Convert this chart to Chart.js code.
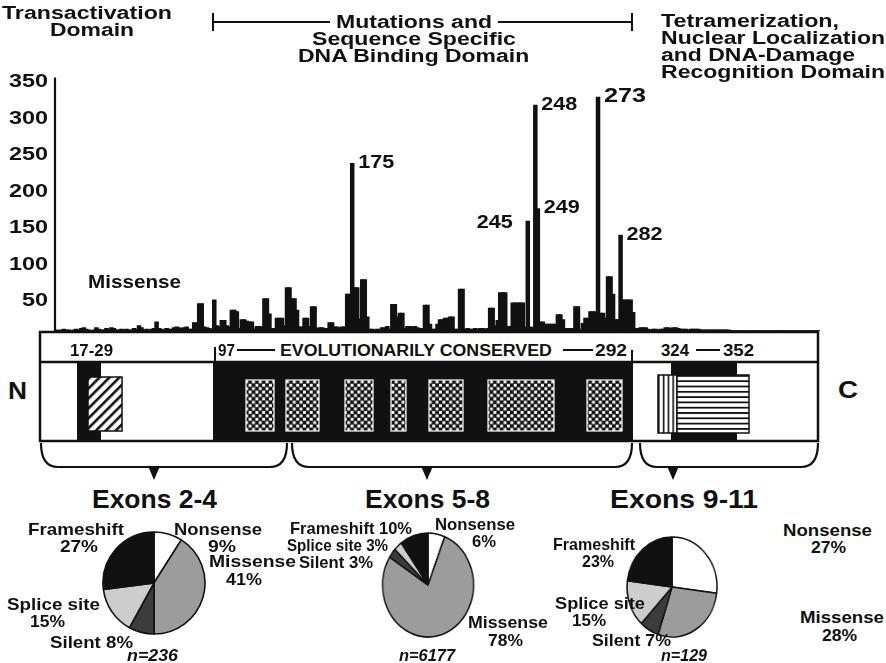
<!DOCTYPE html>
<html>
<head>
<meta charset="utf-8">
<script src="https://cdn.jsdelivr.net/npm/chart.js@4.4.1/dist/chart.umd.min.js"></script>
<style>
  html, body { margin: 0; padding: 0; background: #fff; }
  #page { position: relative; width: 886px; height: 663px; overflow: hidden; background: #fff; color: #111;
          font-family: "Liberation Sans", Arial, Helvetica, sans-serif; }
  .t { position: absolute; white-space: nowrap; transform-origin: 0 50%; }
  .box { position: absolute; }
  canvas { display: block; }
  svg { position: absolute; left: 0; top: 0; }
</style>
</head>
<body>
<div id="page">
  <svg width="886" height="663" viewBox="0 0 886 663">
    <defs>
      <pattern id="chk" x="0" y="380" width="6.8" height="6.8" patternUnits="userSpaceOnUse">
        <rect width="6.8" height="6.8" fill="#111"/>
        <rect x="0.4" y="0.4" width="2.9" height="2.9" fill="#fff"/>
        <rect x="3.8" y="3.8" width="2.9" height="2.9" fill="#fff"/>
      </pattern>
      <pattern id="hatch" width="7" height="7" patternUnits="userSpaceOnUse" patternTransform="rotate(45)">
        <rect width="7" height="7" fill="#fff"/>
        <rect width="2.6" height="7" fill="#111"/>
      </pattern>
      <pattern id="vstr" x="658" y="0" width="4.8" height="8" patternUnits="userSpaceOnUse">
        <rect width="4.8" height="8" fill="#fff"/>
        <rect width="1.6" height="8" fill="#111"/>
      </pattern>
      <pattern id="hstr" x="0" y="375" width="8" height="5.3" patternUnits="userSpaceOnUse">
        <rect width="8" height="5.3" fill="#fff"/>
        <rect width="8" height="1.8" fill="#111"/>
      </pattern>
    </defs>

    <!-- domain bracket over the DNA binding region -->
    <g stroke="#111" stroke-width="2" fill="none">
      <path d="M213,22 H330 M498,22 H632 M213,13 V31 M632,13 V31"/>
    </g>

    <!-- p53 protein schematic -->
    <rect x="40" y="332" width="778" height="109" fill="#fff" stroke="#111" stroke-width="2.5"/>
    <rect x="77" y="362" width="24" height="79" fill="#111"/>
    <rect x="213" y="362" width="420" height="79" fill="#111"/>
    <rect x="671" y="362" width="66" height="79" fill="#111"/>
    <line x1="40" y1="362" x2="818" y2="362" stroke="#111" stroke-width="2.5"/>
    <rect x="88" y="377" width="34" height="54" fill="url(#hatch)" stroke="#111" stroke-width="1.5"/>
    <g fill="url(#chk)" stroke="#fff" stroke-width="1.2">
      <rect x="246" y="380" width="28" height="51"/>
      <rect x="286" y="380" width="33" height="51"/>
      <rect x="345" y="380" width="28" height="51"/>
      <rect x="391" y="380" width="15" height="51"/>
      <rect x="429" y="380" width="34" height="51"/>
      <rect x="488" y="380" width="66" height="51"/>
      <rect x="587" y="380" width="35" height="51"/>
    </g>
    <rect x="658" y="375" width="19" height="58" fill="url(#vstr)" stroke="#111" stroke-width="1.5"/>
    <rect x="677" y="375" width="72" height="58" fill="url(#hstr)" stroke="#111" stroke-width="1.5"/>
    <g stroke="#111" stroke-width="2" fill="none">
      <path d="M215,347 V362 M632,350 V362"/>
      <path d="M237,350 H275 M563,350 H593 M696,350 H720"/>
    </g>

    <!-- exon braces -->
    <g stroke="#111" stroke-width="2.2" fill="none">
      <path d="M41,443 Q41,467 58,467 H270 Q287,467 287,443"/>
      <path d="M292,443 Q292,467 309,467 H615 Q632,467 632,443"/>
      <path d="M640,443 Q640,467 657,467 H801 Q818,467 818,443"/>
    </g>
    <g fill="#111">
      <polygon points="148,466 160,466 154,480"/>
      <polygon points="421,466 433,466 427,480"/>
      <polygon points="667,466 679,466 673,480"/>
    </g>
  </svg>

  <div class="box" style="left:0;top:0;width:886px;height:336px">
    <canvas id="bars" width="886" height="336"></canvas>
  </div>
  <div class="box" style="left:101px;top:530px;width:106px;height:106px">
    <canvas id="pie24" width="106" height="106"></canvas>
  </div>
  <div class="box" style="left:372px;top:529px;width:112px;height:112px;transform:scaleX(0.875);transform-origin:50% 50%">
    <canvas id="pie58" width="112" height="112"></canvas>
  </div>
  <div class="box" style="left:618px;top:533px;width:108px;height:108px;transform:scaleX(0.9);transform-origin:50% 50%">
    <canvas id="pie911" width="108" height="108"></canvas>
  </div>
</div>

<script>
// Missense mutations per codon, starting at codon 57
const firstCodon = 57;
const missenseCounts = [
  // 57-89
  2,1,2,3,2,2,1,2,3,2,4,5,3,2,1,2,5,3,2,2,4,3,5,4,2,2,3,2,3,2,2,4,3,
  // 90-103
  8,5,2,3,2,3,4,13,4,3,2,4,3,3,
  // 104-119
  5,6,5,4,5,6,3,3,12,12,38,38,6,5,4,3,
  // 120-139
  43,8,6,15,15,8,6,29,29,27,4,16,16,14,13,13,3,7,7,6,
  // 140-159
  45,45,24,4,4,18,18,18,8,60,60,45,45,29,6,6,18,18,7,34,
  // 160-179
  34,4,5,5,4,4,12,12,6,6,5,6,6,51,51,230,60,60,17,71,
  // 180-199
  71,20,3,3,2,3,3,5,5,7,3,37,37,20,25,25,4,7,7,6,
  // 200-219
  7,5,4,4,36,36,10,3,3,10,16,16,18,18,20,20,3,3,58,58,
  // 220-239
  3,4,3,3,4,3,4,4,3,4,32,32,8,15,53,53,53,7,7,39,
  // 240-259
  39,39,39,39,6,151,6,5,310,168,13,13,10,10,10,10,10,23,23,16,
  // 260-279
  4,4,4,4,34,34,3,11,18,18,27,27,27,321,25,25,18,75,75,51,
  // 280-299
  16,16,132,43,43,43,43,26,4,4,5,5,5,3,2,3,3,2,3,3,
  // 300-319
  5,5,4,5,5,4,3,3,3,2,3,3,3,3,2,2,2,2,2,2,
  // 320-339
  2,2,2,2,2,2,1,1,1,1,1,1,1,1,1,1,1,1,1,1,
  // 340-361
  1,1,1,1,1,1,1,1,1,1,1,1,1,1,1,1,1,1,1,1,1,1
];
const yTickValues = [50, 100, 150, 200, 250, 300, 350];
const hotspotCodons = [175, 245, 248, 249, 273, 282];

// Mutation types per exon group (percent of all mutations in the group)
const mutationTypes = ['Nonsense', 'Missense', 'Silent', 'Splice site', 'Frameshift'];
const exonGroups = ['Exons 2-4', 'Exons 5-8', 'Exons 9-11'];
const exons24Pct = [9, 41, 8, 15, 27];
const exons58Pct = [6, 78, 3, 3, 10];
const exons911Pct = [27, 28, 7, 15, 23];
const exonTotals = [236, 6177, 129];

const FONT = '"Liberation Sans", Arial, Helvetica, sans-serif';
const INK = '#111';
const typeColors = ['#ffffff', '#9c9c9c', '#3c3c3c', '#cdcdcd', '#111111'];

const page = document.getElementById('page');
const measureCtx = document.createElement('canvas').getContext('2d');

// Bold label stretched to span x1..x2, vertically centred on yc
function fit(text, x1, x2, yc, size, italic) {
  const font = (italic ? 'italic ' : '') + 'bold ' + size + 'px ' + FONT;
  measureCtx.font = font;
  const w = measureCtx.measureText(text).width;
  const el = document.createElement('div');
  el.className = 't';
  el.style.font = font;
  el.style.lineHeight = size + 'px';
  el.style.left = x1 + 'px';
  el.style.top = (yc - size * 0.49) + 'px';
  el.style.transform = 'scaleX(' + ((x2 - x1) / w).toFixed(3) + ')';
  el.textContent = text;
  page.appendChild(el);
}

// Canvas text with horizontal stretch
function wideText(ctx, text, x, y, size, sx, align) {
  ctx.save();
  ctx.font = 'bold ' + size + 'px ' + FONT;
  ctx.textBaseline = 'middle';
  ctx.fillStyle = INK;
  const w = ctx.measureText(text).width * sx;
  const left = align === 'right' ? x - w : align === 'center' ? x - w / 2 : x;
  ctx.translate(left, y);
  ctx.scale(sx, 1);
  ctx.fillText(text, 0, 0);
  ctx.restore();
}

// ---- histogram of missense mutations ----
const barPoints = missenseCounts.map((v, i) => ({ x: firstCodon + i, y: v }));

const axisAndLabels = {
  id: 'axisAndLabels',
  afterDatasetsDraw(chart) {
    const { ctx, scales: { x, y }, chartArea } = chart;
    // vertical axis line
    ctx.save();
    ctx.strokeStyle = INK;
    ctx.lineWidth = 2.2;
    ctx.beginPath();
    ctx.moveTo(chartArea.left, chartArea.top + 2);
    ctx.lineTo(chartArea.left, chartArea.bottom);
    ctx.stroke();
    ctx.restore();
    // tick labels, hanging just below each tick value
    yTickValues.forEach(v => {
      wideText(ctx, String(v), chartArea.left - 7, y.getPixelForValue(v) + 7, 18, 1.3, 'right');
    });
    // hotspot codon labels beside the bar tops
    hotspotCodons.forEach(c => {
      const v = missenseCounts[c - firstCodon];
      const px = x.getPixelForValue(c);
      const py = y.getPixelForValue(v);
      if (c === 245) {
        wideText(ctx, String(c), px - 15, py + 2, 18, 1.2, 'right');
      } else {
        const size = c === 273 ? 21 : 18;
        wideText(ctx, String(c), px + 6, py, size, 1.2, 'left');
      }
    });
  }
};

new Chart(document.getElementById('bars'), {
  type: 'bar',
  data: {
    datasets: [{
      data: barPoints,
      backgroundColor: INK,
      borderWidth: 0,
      barPercentage: 1.8,
      categoryPercentage: 1
    }]
  },
  options: {
    responsive: false,
    animation: false,
    events: [],
    layout: { padding: { left: 55, right: 66, top: 75.5, bottom: 5 } },
    scales: {
      x: { type: 'linear', min: 56.5, max: 361.5, offset: false, grid: { offset: false }, display: false },
      y: { min: 0, max: 350, display: false }
    },
    plugins: { legend: { display: false }, tooltip: { enabled: false } }
  },
  plugins: [axisAndLabels]
});

// ---- pie charts by exon group ----
function pie(id, values, r) {
  new Chart(document.getElementById(id), {
    type: 'pie',
    data: {
      labels: mutationTypes,
      datasets: [{ data: values, backgroundColor: typeColors, borderColor: INK, borderWidth: 1.6 }]
    },
    options: {
      responsive: false,
      animation: false,
      events: [],
      radius: r,
      layout: { padding: 0 },
      plugins: { legend: { display: false }, tooltip: { enabled: false } }
    }
  });
}
pie('pie24', exons24Pct, 51);
pie('pie58', exons58Pct, 52);
pie('pie911', exons911Pct, 50);

// ---- titles and annotations ----
fit('Transactivation', 2, 172, 13, 18);
fit('Domain', 50, 134, 30, 18);
fit('Mutations and', 336, 492, 22, 18);
fit('Sequence Specific', 312, 516, 39, 18);
fit('DNA Binding Domain', 298, 530, 56, 18);
fit('Tetramerization,', 661, 839, 21, 18);
fit('Nuclear Localization', 661, 885, 38, 18);
fit('and DNA-Damage', 661, 855, 55, 18);
fit('Recognition Domain', 661, 885, 72, 18);
fit('Missense', 88, 181, 281, 19);

fit('17-29', 70, 113, 351, 16);
fit('97', 218, 235, 351, 16);
fit('EVOLUTIONARILY CONSERVED', 280, 552, 351, 16);
fit('292', 595, 627, 351, 16);
fit('324', 661, 689, 351, 16);
fit('352', 723, 754, 351, 16);
fit('N', 8, 27, 391, 24);
fit('C', 838, 858, 390, 24);

fit(exonGroups[0], 92, 217, 499, 25);
fit(exonGroups[1], 365, 490, 499, 25);
fit(exonGroups[2], 610, 758, 499, 25);

const pct = v => v + '%';
// Exons 2-4
fit(mutationTypes[4], 28, 124, 529, 17);
fit(pct(exons24Pct[4]), 60, 98, 546, 17);
fit(mutationTypes[0], 174, 262, 529, 17);
fit(pct(exons24Pct[0]), 208, 236, 546, 17);
fit(mutationTypes[1], 209, 296, 561, 17);
fit(pct(exons24Pct[1]), 226, 262, 579, 17);
fit(mutationTypes[3], 7, 100, 604, 17);
fit(pct(exons24Pct[3]), 30, 65, 621, 17);
fit(mutationTypes[2] + ' ' + pct(exons24Pct[2]), 50, 133, 642, 17);
fit('n=' + exonTotals[0], 127, 178, 656, 16, true);
// Exons 5-8
fit(mutationTypes[4] + ' ' + pct(exons58Pct[4]), 290, 412, 528, 17);
fit(mutationTypes[3] + ' ' + pct(exons58Pct[3]), 287, 388, 545, 17);
fit(mutationTypes[2] + ' ' + pct(exons58Pct[2]), 299, 373, 562, 17);
fit(mutationTypes[0], 435, 515, 524, 17);
fit(pct(exons58Pct[0]), 472, 496, 541, 17);
fit(mutationTypes[1], 468, 548, 622, 17);
fit(pct(exons58Pct[1]), 488, 523, 640, 17);
fit('n=' + exonTotals[1], 399, 455, 656, 16, true);
// Exons 9-11
fit(mutationTypes[4], 553, 635, 544, 17);
fit(pct(exons911Pct[4]), 582, 614, 561, 17);
fit(mutationTypes[0], 783, 872, 530, 17);
fit(pct(exons911Pct[0]), 811, 846, 547, 17);
fit(mutationTypes[3], 555, 645, 603, 17);
fit(pct(exons911Pct[3]), 572, 606, 620, 17);
fit(mutationTypes[2] + ' ' + pct(exons911Pct[2]), 592, 671, 640, 17);
fit(mutationTypes[1], 800, 884, 617, 17);
fit(pct(exons911Pct[1]), 822, 857, 635, 17);
fit('n=' + exonTotals[2], 661, 707, 656, 16, true);
</script>
</body>
</html>
